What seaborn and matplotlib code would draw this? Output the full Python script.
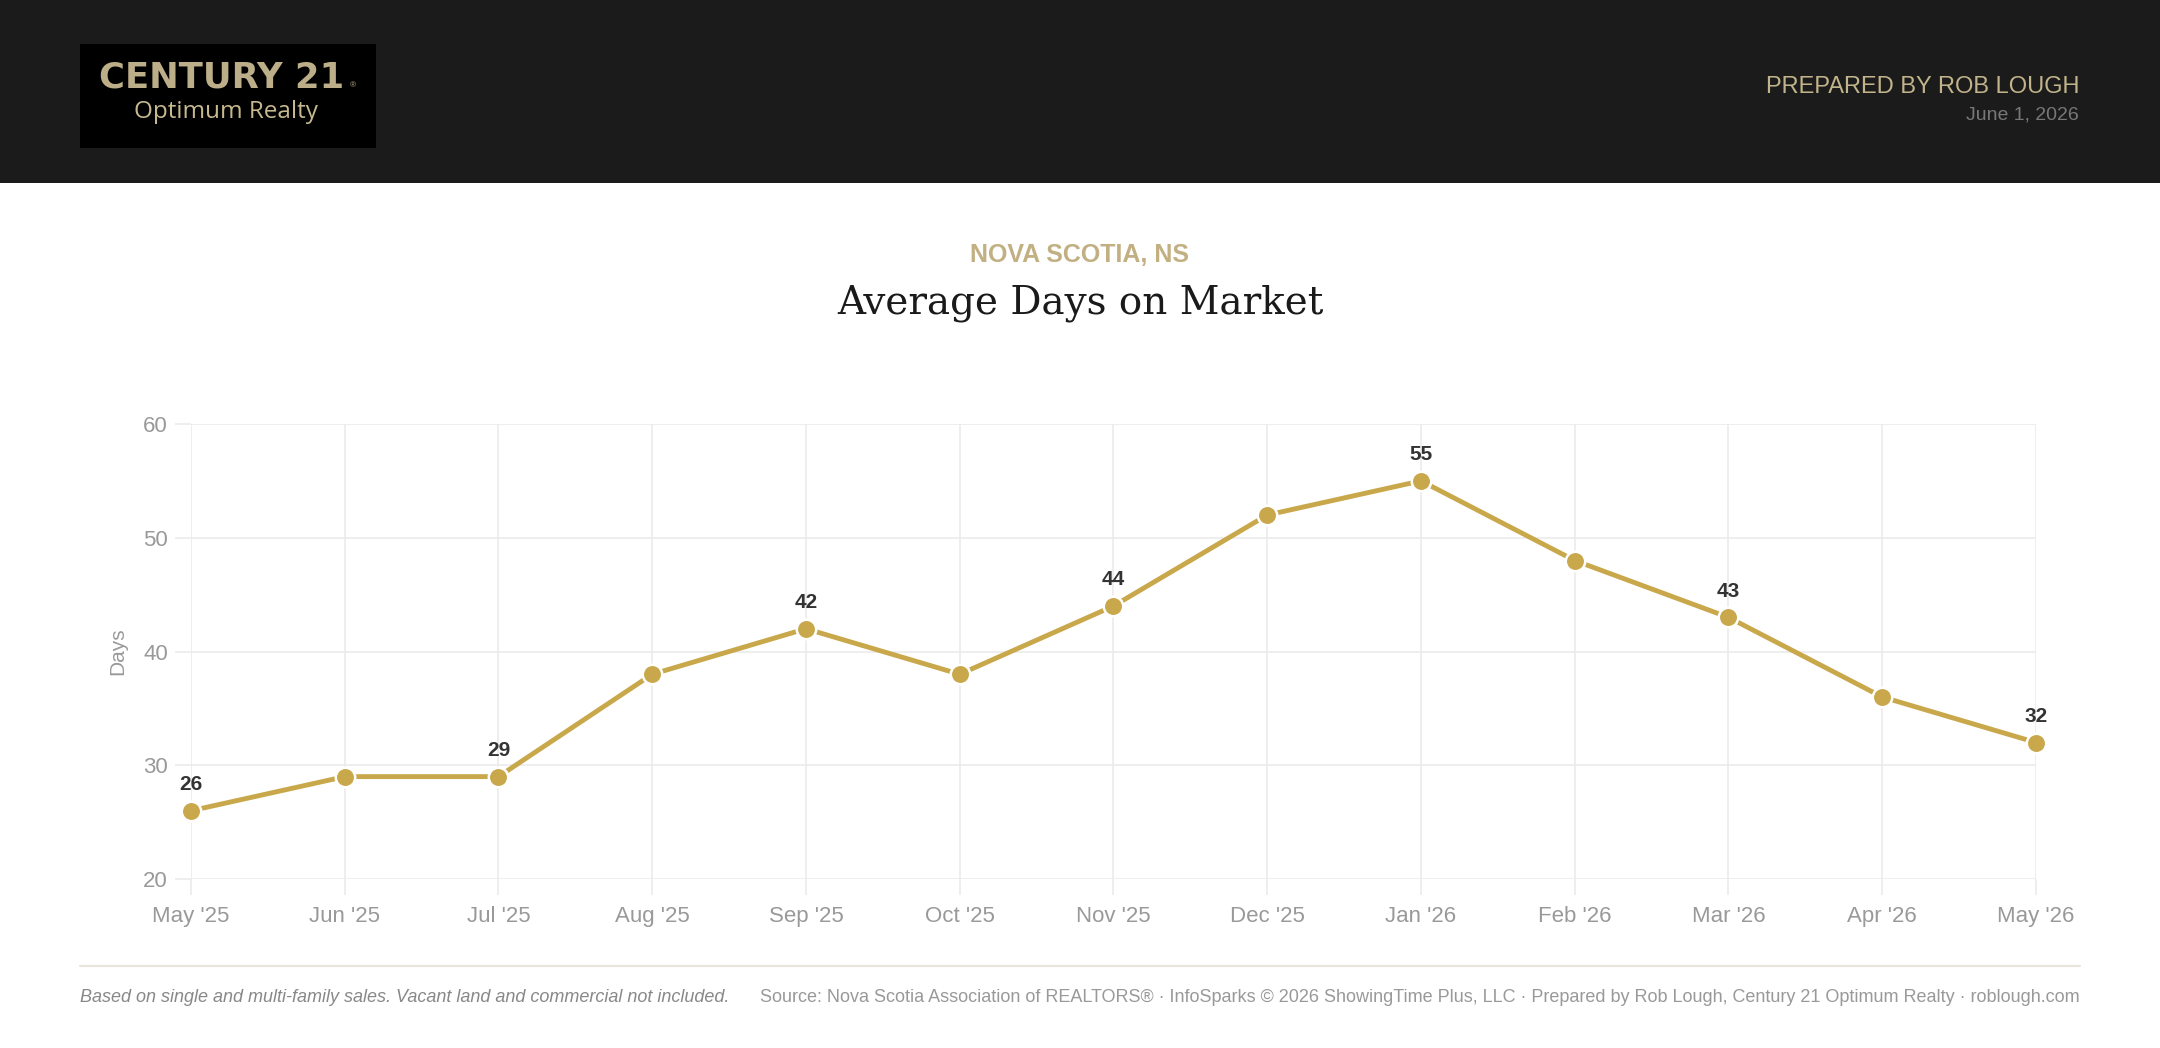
import matplotlib
matplotlib.use("Agg")
import matplotlib.pyplot as plt
from matplotlib.patches import Rectangle
from matplotlib.lines import Line2D
import pandas as pd
import seaborn as sns

months = ["May '25", "Jun '25", "Jul '25", "Aug '25", "Sep '25", "Oct '25", "Nov '25",
          "Dec '25", "Jan '26", "Feb '26", "Mar '26", "Apr '26", "May '26"]
days = [26, 29, 29, 38, 42, 38, 44, 52, 55, 48, 43, 36, 32]
y_ticks = [20, 30, 40, 50, 60]

GOLD = "#c9a84c"
HEAD_GOLD = "#c1b38a"
GRID = "#ebebeb"

sns.set_theme(style="white")
plt.rcParams["font.family"] = ["Liberation Sans", "DejaVu Sans"]

df = pd.DataFrame({"month": months, "days": days})

fig = plt.figure(figsize=(21.6, 10.48), dpi=100)
fig.patch.set_facecolor("white")

# header band + logo box
fig.patches.append(Rectangle((0, 1 - 183 / 1048), 1, 183 / 1048, transform=fig.transFigure,
                             facecolor="#1b1b1b", edgecolor="none", zorder=0))
fig.patches.append(Rectangle((80 / 2160, 1 - 148 / 1048), 296 / 2160, 104 / 1048,
                             transform=fig.transFigure, facecolor="#000000", edgecolor="none", zorder=1))
fig.text(222 / 2160, 1 - 87 / 1048, "CENTURY 21", ha="center", va="baseline", color="#bcae88",
         fontsize=25.5, fontweight="bold", family=["DejaVu Sans"])
fig.text(353 / 2160, 1 - 87 / 1048, "®", ha="center", va="baseline", color="#bcae88", fontsize=6)
fig.text(226 / 2160, 1 - 118 / 1048, "Optimum Realty", ha="center", va="baseline", color="#c7b98f",
         fontsize=17.5, family=["Open Sans", "DejaVu Sans"])
fig.text(2079 / 2160, 1 - 93 / 1048, "PREPARED BY ROB LOUGH", ha="right", va="baseline",
         color=HEAD_GOLD, fontsize=17)
fig.text(2079 / 2160, 1 - 119 / 1048, "June 1, 2026", ha="right", va="baseline",
         color="#777777", fontsize=14)

# titles
fig.text(0.5, 1 - 262 / 1048, "NOVA SCOTIA, NS", ha="center", va="baseline", color="#c2b083",
         fontsize=18, fontweight="bold")
fig.text(0.5, 1 - 314 / 1048, "Average Days on Market", ha="center", va="baseline", color="#1a1a1a",
         fontsize=28, family=["DejaVu Serif"])

# chart
ax = fig.add_axes([191 / 2160, 169 / 1048, 1845 / 2160, 455 / 1048])
sns.lineplot(data=df, x="month", y="days", sort=False, ax=ax, color=GOLD, linewidth=3.5,
             marker="o", markersize=14, markerfacecolor=GOLD, markeredgecolor="white",
             markeredgewidth=1.8, zorder=3, clip_on=False)

for i, v in enumerate(days):
    if i % 2 == 0:
        ax.annotate(str(v), (i, v), xytext=(0, 15), textcoords="offset points", ha="center",
                    va="baseline", fontsize=15, fontweight="bold", color="#333333", zorder=4)

ax.set_xlim(0, len(months) - 1)
ax.set_ylim(20, 60)
ax.set_yticks(y_ticks)
ax.grid(True, color=GRID, linewidth=1.2)
for s in ax.spines.values():
    s.set_visible(False)
ax.tick_params(axis="both", bottom=True, left=True, length=11.5, width=1.2, color=GRID,
               labelcolor="#999999", labelsize=16)
ax.tick_params(axis="x", pad=8)
ax.tick_params(axis="y", pad=5)
ax.set_xlabel("")
ax.set_ylabel("Days", color="#999999", fontsize=15)
ax.yaxis.set_label_coords(-0.0347, 0.5)

# footer
fig.add_artist(Line2D([80 / 2160, 2080 / 2160], [1 - 966 / 1048] * 2, transform=fig.transFigure,
                      color="#e8e4dc", linewidth=1.5))
fig.text(80 / 2160, 1 - 1002 / 1048,
         "Based on single and multi-family sales. Vacant land and commercial not included.",
         ha="left", va="baseline", color="#888888", fontsize=13, style="italic")
fig.text(2080 / 2160, 1 - 1002 / 1048,
         "Source: Nova Scotia Association of REALTORS® · InfoSparks © 2026 ShowingTime Plus, LLC · "
         "Prepared by Rob Lough, Century 21 Optimum Realty · roblough.com",
         ha="right", va="baseline", color="#999999", fontsize=13)

fig.savefig("out.png", dpi=100)
